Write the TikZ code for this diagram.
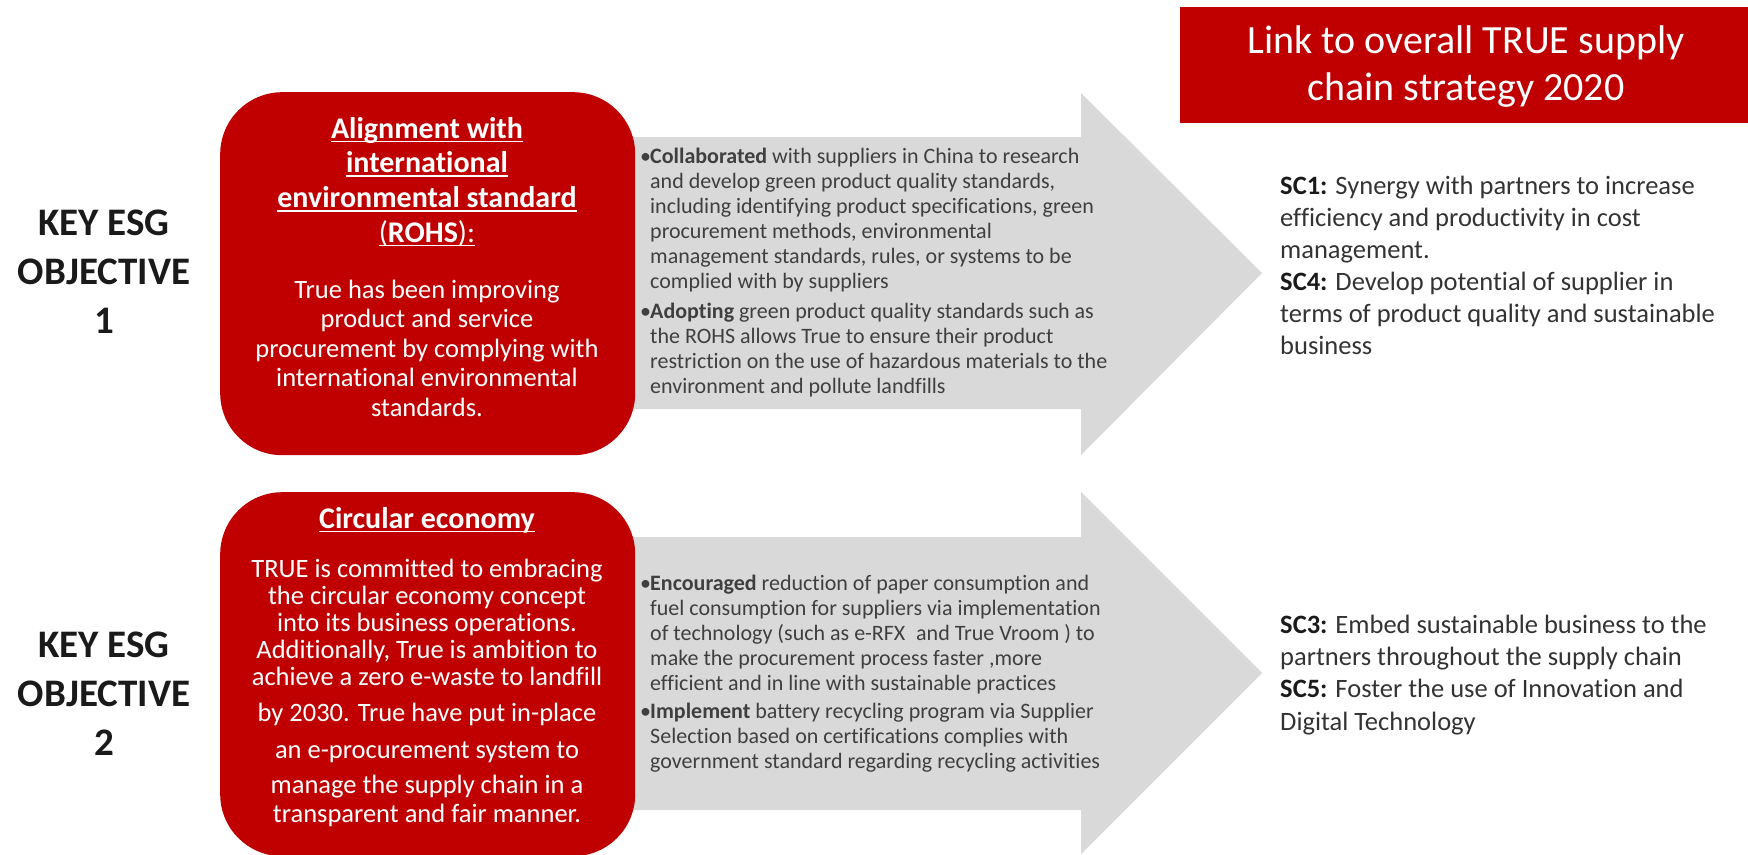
\documentclass[tikz,border=0pt]{standalone}
\usepackage{fontspec}
\setmainfont{Carlito}[Ligatures={NoCommon}]
\definecolor{tred}{HTML}{C00000}
\definecolor{agray}{HTML}{D9D9D9}
\definecolor{gtext}{HTML}{3F3F3F}
\definecolor{sctext}{HTML}{333333}
\definecolor{ktext}{HTML}{1A1A1A}
\newcommand\myul[1]{\setbox0=\hbox{#1}\rlap{\rule[-4pt]{\wd0}{1.6pt}}\box0}
\newcommand\bul{\makebox[10pt][l]{•}}
\newcommand\ind{\hspace*{10pt}}
\begin{document}
\begin{tikzpicture}[x=1pt,y=-1pt,
  redbox/.style={fill=tred,draw=none,rounded corners=62pt,inner sep=0pt,anchor=north west},
  arrowshape/.style={fill=agray,draw=none},
  keytext/.style={anchor=north,inner sep=0pt,align=center,text=ktext,font=\fontsize{39}{49}\selectfont\bfseries},
  headtext/.style={anchor=north,inner sep=0pt,align=center,text=white,font=\fontsize{30}{34.7}\selectfont\bfseries},
  bodytext/.style={anchor=north,inner sep=0pt,align=center,text=white},
  graytext/.style={anchor=north west,inner sep=0pt,align=left,text=gtext,font=\fontsize{22}{25}\selectfont},
  sctxt/.style={anchor=north west,inner sep=0pt,align=left,text=sctext,font=\fontsize{26.5}{32}\selectfont}
]
\useasboundingbox (0,0) rectangle (1748,854);
\fill[white] (0,0) rectangle (1748,854);

% grey arrows
\fill[arrowshape] (600,137) -- (1081,137) -- (1081,93) -- (1262,273) -- (1081,455) -- (1081,409) -- (600,409) -- cycle;
\fill[arrowshape] (600,537) -- (1081,537) -- (1081,492) -- (1262,673) -- (1081,854) -- (1081,810) -- (600,810) -- cycle;

% red boxes
\node[redbox,minimum width=415pt,minimum height=363pt] (box1) at (220,92) {};
\node[redbox,minimum width=415pt,minimum height=364pt] (box2) at (220,492) {};
\node[fill=tred,draw=none,inner sep=0pt,anchor=north west,minimum width=568pt,minimum height=116pt] (linkbox) at (1180,7) {};

% title
\node[anchor=north,inner sep=0pt,align=center,text=white,font=\fontsize{40}{47}\selectfont] (title) at (1466,20.1)
  {\strut Link to overall TRUE supply\\chain strategy 2020};

% key objectives
\node[keytext] (key1) at (104,200.7) {\strut KEY ESG\\OBJECTIVE\\1};
\node[keytext] (key2) at (104,622.7) {\strut KEY ESG\\OBJECTIVE\\2};

% box 1 texts
\node[headtext] (head1) at (427,113.7)
  {\strut\myul{Alignment with}\\\myul{international}\\\myul{environmental standard}\\\myul{{\mdseries(}ROHS{\mdseries):}}};
\node[bodytext,font=\fontsize{26.5}{29.5}\selectfont] (body1) at (427,277.35)
  {\strut True has been improving\\product and service\\procurement by complying with\\international environmental\\standards.};

% box 2 texts
\node[headtext] (head2) at (427,503.7) {\strut\myul{Circular economy}};
\node[bodytext,font=\fontsize{26.5}{27}\selectfont] (body2) at (427,558.1)
  {\strut TRUE is committed to embracing\\the circular economy concept\\into its business operations.\\Additionally, True is ambition to\\achieve a zero e-waste to landfill\\[9pt]by 2030. True have put in-place\\[10pt]an e-procurement system to\\[8pt]manage the supply chain in a\\[2pt]transparent and fair manner.};

% arrow texts
\node[graytext] (g1) at (640,145.5)
  {\strut\bul\textbf{Collaborated} with suppliers in China to research\\
   \ind and develop green product quality standards,\\
   \ind including identifying product specifications, green\\
   \ind procurement methods, environmental\\
   \ind management standards, rules, or systems to be\\
   \ind complied with by suppliers\\[5pt]
   \bul\textbf{Adopting} green product quality standards such as\\
   \ind the ROHS allows True to ensure their product\\
   \ind restriction on the use of hazardous materials to the\\
   \ind environment and pollute landfills};
\node[graytext] (g2) at (640,572.5)
  {\strut\bul\textbf{Encouraged} reduction of paper consumption and\\
   \ind fuel consumption for suppliers via implementation\\
   \ind of technology (such as e-RFX\enspace and True Vroom\ ) to\\
   \ind make the procurement process faster ,more\\
   \ind efficient and in line with sustainable practices\\[3pt]
   \bul\textbf{Implement} battery recycling program via Supplier\\
   \ind Selection based on certifications complies with\\
   \ind government standard regarding recycling activities};

% supply chain strategy links
\node[sctxt] (sc14) at (1280,171.6)
  {\strut\textbf{\color{ktext}SC1:} Synergy with partners to increase\\
   efficiency and productivity in cost\\
   management.\\
   \textbf{\color{ktext}SC4:} Develop potential of supplier in\\
   terms of product quality and sustainable\\
   business};
\node[sctxt,font=\fontsize{26.5}{32.3}\selectfont] (sc35) at (1280,610.4)
  {\strut\textbf{\color{ktext}SC3:} Embed sustainable business to the\\
   partners throughout the supply chain\\
   \textbf{\color{ktext}SC5:} Foster the use of Innovation and\\
   Digital Technology};
\end{tikzpicture}
\end{document}
